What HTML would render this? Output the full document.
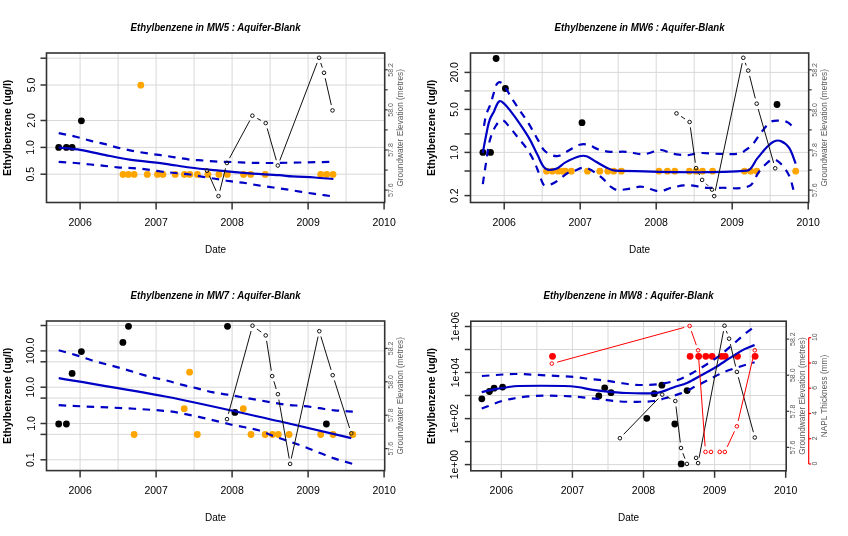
<!DOCTYPE html>
<html><head><meta charset="utf-8"><style>
html,body{margin:0;padding:0;background:#fff;}
body{width:848px;height:536px;overflow:hidden;font-family:"Liberation Sans", sans-serif;}
svg{display:block;filter:blur(0.3px);}
text{dominant-baseline:central;}
</style></head><body>
<svg width="848" height="536" viewBox="0 0 848 536" style='font-family:"Liberation Sans", sans-serif'>
<rect width="848" height="536" fill="#fff"/>
<line x1="80.1" y1="53" x2="80.1" y2="202.5" stroke="#d8d8d8" stroke-width="1" />
<line x1="118.1" y1="53" x2="118.1" y2="202.5" stroke="#d8d8d8" stroke-width="1" />
<line x1="156.1" y1="53" x2="156.1" y2="202.5" stroke="#d8d8d8" stroke-width="1" />
<line x1="194.1" y1="53" x2="194.1" y2="202.5" stroke="#d8d8d8" stroke-width="1" />
<line x1="232.1" y1="53" x2="232.1" y2="202.5" stroke="#d8d8d8" stroke-width="1" />
<line x1="270.1" y1="53" x2="270.1" y2="202.5" stroke="#d8d8d8" stroke-width="1" />
<line x1="308.1" y1="53" x2="308.1" y2="202.5" stroke="#d8d8d8" stroke-width="1" />
<line x1="346.1" y1="53" x2="346.1" y2="202.5" stroke="#d8d8d8" stroke-width="1" />
<line x1="46.5" y1="58.2" x2="384.7" y2="58.2" stroke="#d8d8d8" stroke-width="1" />
<line x1="46.5" y1="85" x2="384.7" y2="85" stroke="#d8d8d8" stroke-width="1" />
<line x1="46.5" y1="120.5" x2="384.7" y2="120.5" stroke="#d8d8d8" stroke-width="1" />
<line x1="46.5" y1="147.4" x2="384.7" y2="147.4" stroke="#d8d8d8" stroke-width="1" />
<line x1="46.5" y1="174.2" x2="384.7" y2="174.2" stroke="#d8d8d8" stroke-width="1" />
<line x1="504.2" y1="53" x2="504.2" y2="202.5" stroke="#d8d8d8" stroke-width="1" />
<line x1="542.2" y1="53" x2="542.2" y2="202.5" stroke="#d8d8d8" stroke-width="1" />
<line x1="580.2" y1="53" x2="580.2" y2="202.5" stroke="#d8d8d8" stroke-width="1" />
<line x1="618.2" y1="53" x2="618.2" y2="202.5" stroke="#d8d8d8" stroke-width="1" />
<line x1="656.2" y1="53" x2="656.2" y2="202.5" stroke="#d8d8d8" stroke-width="1" />
<line x1="694.2" y1="53" x2="694.2" y2="202.5" stroke="#d8d8d8" stroke-width="1" />
<line x1="732.2" y1="53" x2="732.2" y2="202.5" stroke="#d8d8d8" stroke-width="1" />
<line x1="770.2" y1="53" x2="770.2" y2="202.5" stroke="#d8d8d8" stroke-width="1" />
<line x1="470.5" y1="72.4" x2="808.7" y2="72.4" stroke="#d8d8d8" stroke-width="1" />
<line x1="470.5" y1="90.9" x2="808.7" y2="90.9" stroke="#d8d8d8" stroke-width="1" />
<line x1="470.5" y1="109.4" x2="808.7" y2="109.4" stroke="#d8d8d8" stroke-width="1" />
<line x1="470.5" y1="133.9" x2="808.7" y2="133.9" stroke="#d8d8d8" stroke-width="1" />
<line x1="470.5" y1="152.4" x2="808.7" y2="152.4" stroke="#d8d8d8" stroke-width="1" />
<line x1="470.5" y1="171" x2="808.7" y2="171" stroke="#d8d8d8" stroke-width="1" />
<line x1="470.5" y1="195.6" x2="808.7" y2="195.6" stroke="#d8d8d8" stroke-width="1" />
<line x1="80.1" y1="321" x2="80.1" y2="470.6" stroke="#d8d8d8" stroke-width="1" />
<line x1="118.1" y1="321" x2="118.1" y2="470.6" stroke="#d8d8d8" stroke-width="1" />
<line x1="156.1" y1="321" x2="156.1" y2="470.6" stroke="#d8d8d8" stroke-width="1" />
<line x1="194.1" y1="321" x2="194.1" y2="470.6" stroke="#d8d8d8" stroke-width="1" />
<line x1="232.1" y1="321" x2="232.1" y2="470.6" stroke="#d8d8d8" stroke-width="1" />
<line x1="270.1" y1="321" x2="270.1" y2="470.6" stroke="#d8d8d8" stroke-width="1" />
<line x1="308.1" y1="321" x2="308.1" y2="470.6" stroke="#d8d8d8" stroke-width="1" />
<line x1="346.1" y1="321" x2="346.1" y2="470.6" stroke="#d8d8d8" stroke-width="1" />
<line x1="46.5" y1="325.5" x2="384.7" y2="325.5" stroke="#d8d8d8" stroke-width="1" />
<line x1="46.5" y1="350.9" x2="384.7" y2="350.9" stroke="#d8d8d8" stroke-width="1" />
<line x1="46.5" y1="361.8" x2="384.7" y2="361.8" stroke="#d8d8d8" stroke-width="1" />
<line x1="46.5" y1="387.2" x2="384.7" y2="387.2" stroke="#d8d8d8" stroke-width="1" />
<line x1="46.5" y1="398.1" x2="384.7" y2="398.1" stroke="#d8d8d8" stroke-width="1" />
<line x1="46.5" y1="423.5" x2="384.7" y2="423.5" stroke="#d8d8d8" stroke-width="1" />
<line x1="46.5" y1="434.4" x2="384.7" y2="434.4" stroke="#d8d8d8" stroke-width="1" />
<line x1="46.5" y1="459.8" x2="384.7" y2="459.8" stroke="#d8d8d8" stroke-width="1" />
<line x1="501.3" y1="321.2" x2="501.3" y2="470.8" stroke="#d8d8d8" stroke-width="1" />
<line x1="536.9" y1="321.2" x2="536.9" y2="470.8" stroke="#d8d8d8" stroke-width="1" />
<line x1="572.4" y1="321.2" x2="572.4" y2="470.8" stroke="#d8d8d8" stroke-width="1" />
<line x1="608" y1="321.2" x2="608" y2="470.8" stroke="#d8d8d8" stroke-width="1" />
<line x1="643.5" y1="321.2" x2="643.5" y2="470.8" stroke="#d8d8d8" stroke-width="1" />
<line x1="679" y1="321.2" x2="679" y2="470.8" stroke="#d8d8d8" stroke-width="1" />
<line x1="714.6" y1="321.2" x2="714.6" y2="470.8" stroke="#d8d8d8" stroke-width="1" />
<line x1="750.1" y1="321.2" x2="750.1" y2="470.8" stroke="#d8d8d8" stroke-width="1" />
<line x1="470.8" y1="464.6" x2="786.2" y2="464.6" stroke="#d8d8d8" stroke-width="1" />
<line x1="470.8" y1="441.6" x2="786.2" y2="441.6" stroke="#d8d8d8" stroke-width="1" />
<line x1="470.8" y1="418.6" x2="786.2" y2="418.6" stroke="#d8d8d8" stroke-width="1" />
<line x1="470.8" y1="395.5" x2="786.2" y2="395.5" stroke="#d8d8d8" stroke-width="1" />
<line x1="470.8" y1="372.5" x2="786.2" y2="372.5" stroke="#d8d8d8" stroke-width="1" />
<line x1="470.8" y1="349.5" x2="786.2" y2="349.5" stroke="#d8d8d8" stroke-width="1" />
<line x1="470.8" y1="326.5" x2="786.2" y2="326.5" stroke="#d8d8d8" stroke-width="1" />
<circle cx="123" cy="174.4" r="3.4" fill="#ffa500"/>
<circle cx="128.4" cy="174.4" r="3.4" fill="#ffa500"/>
<circle cx="134.1" cy="174.4" r="3.4" fill="#ffa500"/>
<circle cx="147.3" cy="174.4" r="3.4" fill="#ffa500"/>
<circle cx="157.5" cy="174.4" r="3.4" fill="#ffa500"/>
<circle cx="162.9" cy="174.4" r="3.4" fill="#ffa500"/>
<circle cx="175.2" cy="174.4" r="3.4" fill="#ffa500"/>
<circle cx="184.4" cy="174.4" r="3.4" fill="#ffa500"/>
<circle cx="189.8" cy="174.4" r="3.4" fill="#ffa500"/>
<circle cx="197.4" cy="174.4" r="3.4" fill="#ffa500"/>
<circle cx="207.9" cy="174.4" r="3.4" fill="#ffa500"/>
<circle cx="218.9" cy="174.4" r="3.4" fill="#ffa500"/>
<circle cx="227.3" cy="174.4" r="3.4" fill="#ffa500"/>
<circle cx="243.6" cy="174.4" r="3.4" fill="#ffa500"/>
<circle cx="250.7" cy="174.4" r="3.4" fill="#ffa500"/>
<circle cx="265.2" cy="174.4" r="3.4" fill="#ffa500"/>
<circle cx="320.7" cy="174.4" r="3.4" fill="#ffa500"/>
<circle cx="326.7" cy="174.4" r="3.4" fill="#ffa500"/>
<circle cx="333" cy="174.4" r="3.4" fill="#ffa500"/>
<circle cx="140.8" cy="85.2" r="3.4" fill="#ffa500"/>
<circle cx="58.7" cy="147.4" r="3.4" fill="#000"/>
<circle cx="66.4" cy="147.4" r="3.4" fill="#000"/>
<circle cx="72.1" cy="147.4" r="3.4" fill="#000"/>
<circle cx="81.4" cy="120.8" r="3.4" fill="#000"/>
<path d="M58.7,147.3 C65.9,148.2 73.1,148.7 80.3,149.9 C88.8,151.3 97.2,153.4 105.7,155.1 C113.7,156.7 121.6,158.4 129.6,159.6 C141.5,161.3 153.5,162.2 165.4,163.8 C173.6,164.9 181.7,166.5 189.9,167.5 C199.8,168.8 209.8,169.7 219.7,170.7 C229.7,171.7 239.6,172.6 249.6,173.4 C259.5,174.1 269.5,174.5 279.4,175.2 C283.7,175.5 288.1,176.1 292.4,176.4 C299.9,176.9 307.3,177 314.8,177.5 C321,177.9 327.2,178.5 333.4,179" fill="none" stroke="#0000c4" stroke-width="2.2" stroke-linejoin="round" />
<path d="M58.7,133.1 C64.4,134.3 70.2,135.3 75.9,136.7 C80.9,137.9 85.8,139.6 90.8,140.9 C95.2,142 99.8,142.8 104.2,143.9 C108.7,145 113.1,146.5 117.6,147.6 C122.1,148.7 126.6,149.7 131.1,150.6 C136,151.6 141,152.3 146,153.1 C151,153.9 155.9,154.5 160.9,155.2 C165.6,155.9 170.2,156.6 174.9,157.3 C179.9,158.1 184.9,159 189.9,159.6 C194.8,160.1 199.8,160.2 204.8,160.6 C209.8,161 214.7,161.5 219.7,161.8 C224.7,162 229.6,161.9 234.6,162.1 C239.6,162.3 244.6,162.7 249.6,162.8 C257.4,163 265.2,163 273,163 C282,162.9 291,162.7 300,162.5 C311.1,162.3 322.3,162 333.4,161.8" fill="none" stroke="#0000c4" stroke-width="2.2" stroke-linejoin="round" stroke-dasharray="7.5,6.5"/>
<path d="M58.7,161.8 C64.4,162.2 70.2,162.5 75.9,163 C80.9,163.4 85.8,164 90.8,164.5 C95.3,164.9 99.7,165.3 104.2,165.8 C108.7,166.3 113.1,166.9 117.6,167.3 C122.6,167.7 127.6,167.7 132.6,168.1 C137.1,168.4 141.5,168.8 146,169.3 C151,169.9 155.9,170.9 160.9,171.5 C165.6,172.1 170.2,172.5 174.9,173 C179.9,173.5 184.9,173.8 189.9,174.5 C193.9,175 197.8,176 201.8,176.7 C206.8,177.5 211.7,178.2 216.7,179 C221.2,179.7 225.6,180.6 230.1,181.2 C235.1,181.9 240.1,182.3 245.1,183 C249.6,183.7 254,184.7 258.5,185.4 C263.5,186.2 268.4,186.8 273.4,187.5 C277.7,188.1 282.1,188.7 286.4,189.4 C290.9,190.1 295.4,190.9 299.9,191.6 C304.9,192.4 309.8,193.2 314.8,193.9 C321,194.8 327.2,195.6 333.4,196.5" fill="none" stroke="#0000c4" stroke-width="2.2" stroke-linejoin="round" stroke-dasharray="7.5,6.5"/>
<line x1="209.3" y1="175.7" x2="216.2" y2="191.1" stroke="#111" stroke-width="1" />
<line x1="219.9" y1="190.8" x2="225.5" y2="168.3" stroke="#111" stroke-width="1" />
<line x1="229.5" y1="158.2" x2="249.8" y2="120.5" stroke="#111" stroke-width="1" />
<line x1="257.2" y1="118.4" x2="260.9" y2="120.4" stroke="#111" stroke-width="1" />
<line x1="267.2" y1="128.4" x2="276.3" y2="160.2" stroke="#111" stroke-width="1" />
<line x1="279.8" y1="160.4" x2="317.1" y2="62.9" stroke="#111" stroke-width="1" />
<line x1="320.8" y1="63" x2="322.3" y2="67.6" stroke="#111" stroke-width="1" />
<line x1="325.2" y1="78.2" x2="331.3" y2="105" stroke="#111" stroke-width="1" />
<circle cx="207" cy="170.7" r="1.8" fill="none" stroke="#111" stroke-width="1"/>
<circle cx="218.5" cy="196.1" r="1.8" fill="none" stroke="#111" stroke-width="1"/>
<circle cx="226.9" cy="163" r="1.8" fill="none" stroke="#111" stroke-width="1"/>
<circle cx="252.4" cy="115.7" r="1.8" fill="none" stroke="#111" stroke-width="1"/>
<circle cx="265.7" cy="123.1" r="1.8" fill="none" stroke="#111" stroke-width="1"/>
<circle cx="277.8" cy="165.5" r="1.8" fill="none" stroke="#111" stroke-width="1"/>
<circle cx="319.1" cy="57.8" r="1.8" fill="none" stroke="#111" stroke-width="1"/>
<circle cx="324" cy="72.8" r="1.8" fill="none" stroke="#111" stroke-width="1"/>
<circle cx="332.5" cy="110.4" r="1.8" fill="none" stroke="#111" stroke-width="1"/>
<circle cx="546.5" cy="171.2" r="3.4" fill="#ffa500"/>
<circle cx="552.4" cy="171.2" r="3.4" fill="#ffa500"/>
<circle cx="558.3" cy="171.2" r="3.4" fill="#ffa500"/>
<circle cx="563" cy="171.2" r="3.4" fill="#ffa500"/>
<circle cx="565.4" cy="171.2" r="3.4" fill="#ffa500"/>
<circle cx="571.3" cy="171.2" r="3.4" fill="#ffa500"/>
<circle cx="587.5" cy="171.2" r="3.4" fill="#ffa500"/>
<circle cx="599.8" cy="171.2" r="3.4" fill="#ffa500"/>
<circle cx="607.8" cy="171.2" r="3.4" fill="#ffa500"/>
<circle cx="613.7" cy="171.2" r="3.4" fill="#ffa500"/>
<circle cx="621.4" cy="171.2" r="3.4" fill="#ffa500"/>
<circle cx="658.9" cy="171.2" r="3.4" fill="#ffa500"/>
<circle cx="667.4" cy="171.2" r="3.4" fill="#ffa500"/>
<circle cx="674.8" cy="171.2" r="3.4" fill="#ffa500"/>
<circle cx="689.3" cy="171.2" r="3.4" fill="#ffa500"/>
<circle cx="696.1" cy="171.2" r="3.4" fill="#ffa500"/>
<circle cx="702.5" cy="171.2" r="3.4" fill="#ffa500"/>
<circle cx="712.6" cy="171.2" r="3.4" fill="#ffa500"/>
<circle cx="744.5" cy="171.2" r="3.4" fill="#ffa500"/>
<circle cx="750.7" cy="171.2" r="3.4" fill="#ffa500"/>
<circle cx="756.8" cy="171.2" r="3.4" fill="#ffa500"/>
<circle cx="795.7" cy="171.2" r="3.4" fill="#ffa500"/>
<circle cx="482.9" cy="152.4" r="3.4" fill="#000"/>
<circle cx="490.5" cy="152.4" r="3.4" fill="#000"/>
<circle cx="496.1" cy="58.5" r="3.4" fill="#000"/>
<circle cx="505.4" cy="88.5" r="3.4" fill="#000"/>
<circle cx="582" cy="122.7" r="3.4" fill="#000"/>
<circle cx="777" cy="104.5" r="3.4" fill="#000"/>
<path d="M482.8,152.8 C483.9,146.8 485,140.8 486.2,134.9 C487.2,130 487.9,125 489.5,120.3 C490.5,117.1 492.5,114.4 494,111.4 C495.7,108 496.2,103.6 499.2,101.3 C500.6,100.2 502.7,102.4 504.1,103.6 C506.7,105.9 508.7,108.7 510.8,111.4 C513.9,115.4 516.9,119.5 519.7,123.7 C523.2,128.8 526.7,134 529.8,139.4 C532.7,144.4 534.8,149.9 537.6,155 C540.1,159.6 541.3,165.4 545.5,168.6 C548.3,170.7 552.6,169.9 555.9,168.9 C559.6,167.8 562,164.2 565.4,162.4 C569.9,160 574.6,157.7 579.5,156.3 C581.8,155.6 584.4,155.6 586.6,156.3 C590,157.4 592.8,160 596,161.8 C599.5,163.8 603,166 606.7,167.7 C609.3,168.9 612,170.5 614.9,170.6 C658.9,171.5 703.1,174.3 747,170.6 C752.2,170.2 753.7,162.6 757.1,158.6 C760.5,154.7 763.6,150.5 767.2,146.8 C769.2,144.8 771.3,142.6 773.9,141.5 C776,140.6 778.5,140.1 780.6,141 C783.9,142.4 787,144.7 789,147.7 C792.2,152.5 793.5,158.3 795.7,163.6" fill="none" stroke="#0000c4" stroke-width="2.2" stroke-linejoin="round" />
<path d="M484,125.9 C484.7,122.2 485.1,118.3 486.2,114.7 C487.3,110.9 489.4,107.4 490.7,103.6 C492,99.9 492.7,96.1 494,92.4 C495.3,88.9 495.4,84.3 498.5,82.3 C500.3,81.1 502.7,84 504.1,85.7 C506.9,89 508.5,93.2 510.8,96.8 C513.7,101.4 516.7,105.8 519.7,110.3 C522.7,114.8 525.9,119.1 528.7,123.7 C531.9,128.8 534.6,134.2 537.6,139.4 C539.8,143.1 541.4,147.3 544.4,150.5 C546.5,152.8 549.5,154.2 552.4,155.3 C554.2,156 556.4,156.4 558.3,155.9 C561.3,155.2 563.9,153.3 566.6,151.8 C568.6,150.7 570.5,149.4 572.5,148.3 C574.8,147 576.9,145.3 579.5,144.7 C582.2,144.1 585.1,144 587.8,144.7 C591.6,145.6 594.7,148.2 598.4,149.4 C602.2,150.6 606.2,151.5 610.2,151.8 C615.4,152.3 620.7,151.4 625.9,151.8 C631.8,152.2 637.6,154.3 643.6,154.2 C647.7,154.1 651.5,152.1 655.4,151.2 C657.4,150.7 659.3,149.8 661.3,150 C664.6,150.4 667.5,152.1 670.7,153 C672.6,153.6 674.6,154.2 676.6,154.4 C680.5,154.9 684.5,155.3 688.4,155.1 C690.8,155 693.1,154 695.5,153.6 C697.8,153.3 700.2,153 702.5,153 C708.3,153.1 714.2,153.8 720,153.9 C726.7,154 733.4,154.6 740,153.6 C742.1,153.3 743.7,151.4 745.4,150.2 C747.7,148.6 750.2,147.3 752,145.2 C755.2,141.6 757.5,137.2 760.5,133.4 C763.2,130 765.7,126.4 768.9,123.4 C770.3,122.1 772.1,121.1 773.9,120.8 C776.7,120.3 779.7,120.6 782.5,120.9 C784.3,121.1 786.3,121.4 787.8,122.4 C790.6,124.2 792.7,126.9 795.2,129.1" fill="none" stroke="#0000c4" stroke-width="2.2" stroke-linejoin="round" stroke-dasharray="7.5,6.5"/>
<path d="M482.8,184.1 C483.9,176.6 485,169.2 486.2,161.7 C487.3,155 487.8,148.2 489.5,141.6 C490.8,136.6 492.5,131.5 495.1,127 C496.7,124.3 498.7,120.6 501.8,120.3 C504.7,120.1 506.6,123.8 508.6,125.9 C511.9,129.4 514.5,133.4 517.5,137.1 C520.5,140.8 523.8,144.4 526.5,148.3 C529,151.9 531.3,155.6 533.2,159.5 C535.4,163.8 537,168.4 538.8,172.9 C540.3,176.6 541.1,180.7 543.2,184.1 C543.8,185.1 545.3,185.8 546.5,185.6 C549.4,185.2 552.2,183.9 554.8,182.5 C556.9,181.4 558.7,179.7 560.7,178.3 C563.4,176.3 565.9,174 568.9,172.4 C570.7,171.4 572.9,171.4 574.8,170.7 C577.2,169.9 579.4,168.2 581.9,167.9 C584.3,167.6 586.8,168 589,168.9 C592,170.1 594.5,172.3 597.2,174.2 C599.3,175.7 601.2,177.2 603.1,178.9 C606,181.5 608.3,184.8 611.4,187.2 C613.1,188.6 615.1,189.7 617.3,190.1 C619.6,190.5 622,189.8 624.3,189.5 C626.8,189.2 629.3,188.8 631.8,188.3 C634.5,187.8 637.2,186.7 640,186.6 C642.4,186.5 644.8,187.2 647.1,187.8 C649.9,188.6 652.5,190.2 655.4,190.7 C657.7,191.1 660.2,191.1 662.5,190.7 C664.9,190.3 667.1,189 669.5,188.3 C671.8,187.6 674.2,187.1 676.6,186.6 C679,186.1 681.3,185.6 683.7,185.4 C686.1,185.2 688.4,185.2 690.8,185.4 C693.6,185.6 696.3,186.2 699,186.6 C701.8,187 704.5,187.6 707.3,187.8 C711.5,188 715.8,188 720,187.8 C729.6,187.5 739.8,189.9 748.7,186.3 C754.1,184.1 755.2,176.6 758.8,172 C761.4,168.7 764,165.5 767.2,162.8 C769.1,161.2 771.4,159.3 773.9,159.4 C776.5,159.6 778.8,161.7 780.6,163.6 C783.9,167.1 787,171 789,175.4 C791.9,181.8 792.9,188.8 794.9,195.5" fill="none" stroke="#0000c4" stroke-width="2.2" stroke-linejoin="round" stroke-dasharray="7.5,6.5"/>
<line x1="681.1" y1="116.4" x2="685" y2="119" stroke="#111" stroke-width="1" />
<line x1="690.4" y1="127.4" x2="695.3" y2="162.7" stroke="#111" stroke-width="1" />
<line x1="698.6" y1="173" x2="699.6" y2="175" stroke="#111" stroke-width="1" />
<line x1="706" y1="183.7" x2="708.1" y2="185.8" stroke="#111" stroke-width="1" />
<line x1="715.3" y1="190.7" x2="742.2" y2="63.2" stroke="#111" stroke-width="1" />
<line x1="745.3" y1="62.9" x2="746.2" y2="65.5" stroke="#111" stroke-width="1" />
<line x1="749.6" y1="75.9" x2="755.3" y2="98.4" stroke="#111" stroke-width="1" />
<line x1="758.2" y1="109" x2="773.7" y2="163" stroke="#111" stroke-width="1" />
<circle cx="676.5" cy="113.4" r="1.8" fill="none" stroke="#111" stroke-width="1"/>
<circle cx="689.6" cy="122" r="1.8" fill="none" stroke="#111" stroke-width="1"/>
<circle cx="696.1" cy="168.1" r="1.8" fill="none" stroke="#111" stroke-width="1"/>
<circle cx="702.1" cy="179.9" r="1.8" fill="none" stroke="#111" stroke-width="1"/>
<circle cx="712" cy="189.6" r="1.8" fill="none" stroke="#111" stroke-width="1"/>
<circle cx="714.2" cy="196.1" r="1.8" fill="none" stroke="#111" stroke-width="1"/>
<circle cx="743.3" cy="57.8" r="1.8" fill="none" stroke="#111" stroke-width="1"/>
<circle cx="748.2" cy="70.6" r="1.8" fill="none" stroke="#111" stroke-width="1"/>
<circle cx="756.7" cy="103.7" r="1.8" fill="none" stroke="#111" stroke-width="1"/>
<circle cx="775.2" cy="168.3" r="1.8" fill="none" stroke="#111" stroke-width="1"/>
<circle cx="134.1" cy="434.5" r="3.4" fill="#ffa500"/>
<circle cx="184.2" cy="408.7" r="3.4" fill="#ffa500"/>
<circle cx="189.6" cy="372.2" r="3.4" fill="#ffa500"/>
<circle cx="197.3" cy="434.5" r="3.4" fill="#ffa500"/>
<circle cx="243.3" cy="408.7" r="3.4" fill="#ffa500"/>
<circle cx="251" cy="434.5" r="3.4" fill="#ffa500"/>
<circle cx="265.2" cy="434.5" r="3.4" fill="#ffa500"/>
<circle cx="272.5" cy="434.5" r="3.4" fill="#ffa500"/>
<circle cx="278.3" cy="434.5" r="3.4" fill="#ffa500"/>
<circle cx="289.1" cy="434.5" r="3.4" fill="#ffa500"/>
<circle cx="320.7" cy="434.5" r="3.4" fill="#ffa500"/>
<circle cx="333" cy="434.5" r="3.4" fill="#ffa500"/>
<circle cx="352.8" cy="434.5" r="3.4" fill="#ffa500"/>
<circle cx="58.7" cy="424" r="3.4" fill="#000"/>
<circle cx="66.4" cy="424" r="3.4" fill="#000"/>
<circle cx="72.1" cy="373.4" r="3.4" fill="#000"/>
<circle cx="81.4" cy="351.6" r="3.4" fill="#000"/>
<circle cx="122.9" cy="342.4" r="3.4" fill="#000"/>
<circle cx="128.5" cy="326.3" r="3.4" fill="#000"/>
<circle cx="227.5" cy="326.3" r="3.4" fill="#000"/>
<circle cx="234.9" cy="412.4" r="3.4" fill="#000"/>
<circle cx="326.4" cy="424" r="3.4" fill="#000"/>
<path d="M58.7,378.2 C94.3,384.3 130,389.6 165.4,396.5 C203.6,404 241.4,412.8 279.4,421.3 C303.4,426.7 327.3,432.5 351.3,438.1" fill="none" stroke="#0000c4" stroke-width="2.2" stroke-linejoin="round" />
<path d="M58.7,350.3 C64.4,351.9 70.2,353.4 75.9,355.1 C81.1,356.7 86.3,358.7 91.5,360.3 C96.7,361.9 102,363.1 107.2,364.5 C112.2,365.8 117.2,367.1 122.1,368.5 C127.1,369.9 132,371.5 137,373 C142.2,374.5 147.4,376.2 152.7,377.5 C157.1,378.6 161.6,379.3 166,380.4 C171.5,381.8 176.9,383.5 182.4,384.9 C187.3,386.2 192.3,387.2 197.3,388.4 C202.3,389.6 207.2,391.2 212.2,392.2 C217.2,393.2 222.2,393.8 227.2,394.6 C232.7,395.5 238.1,396.5 243.6,397.5 C253.5,399.2 263.5,401 273.4,402.7 C278.2,403.5 283,404.4 287.9,404.9 C293.3,405.5 298.8,405.5 304.3,406.1 C309.3,406.6 314.3,407.5 319.3,408.2 C324.3,408.9 329.2,409.8 334.2,410.3 C340.4,410.9 346.6,411.2 352.8,411.6" fill="none" stroke="#0000c4" stroke-width="2.2" stroke-linejoin="round" stroke-dasharray="7.5,6.5"/>
<path d="M58.7,405.2 C94.3,407.1 129.9,407.9 165.4,410.9 C176.7,411.8 187.7,414.6 198.8,416.9 C208.8,419 218.7,421.7 228.7,424 C233.6,425.1 238.6,426 243.6,427 C248.6,428.1 253.6,428.8 258.5,430.3 C263.1,431.7 267.5,433.9 272,435.5 C277.8,437.6 283.6,439.5 289.4,441.5 C294.4,443.2 299.4,444.9 304.3,446.7 C309.3,448.6 314.3,450.7 319.3,452.7 C324.3,454.6 329.2,456.7 334.2,458.4 C340.3,460.5 346.6,462.1 352.8,463.9" fill="none" stroke="#0000c4" stroke-width="2.2" stroke-linejoin="round" stroke-dasharray="7.5,6.5"/>
<line x1="228.4" y1="413.8" x2="251.1" y2="331" stroke="#111" stroke-width="1" />
<line x1="256.9" y1="329" x2="261.3" y2="332.1" stroke="#111" stroke-width="1" />
<line x1="266.6" y1="340.8" x2="271.3" y2="370.7" stroke="#111" stroke-width="1" />
<line x1="273.9" y1="381.3" x2="276.2" y2="389" stroke="#111" stroke-width="1" />
<line x1="278.8" y1="399.6" x2="289.2" y2="458.5" stroke="#111" stroke-width="1" />
<line x1="291.3" y1="458.5" x2="318.1" y2="336.6" stroke="#111" stroke-width="1" />
<line x1="320.9" y1="336.5" x2="331.1" y2="369.9" stroke="#111" stroke-width="1" />
<line x1="334.4" y1="380.4" x2="349.6" y2="428.1" stroke="#111" stroke-width="1" />
<circle cx="227" cy="419.1" r="1.8" fill="none" stroke="#111" stroke-width="1"/>
<circle cx="252.5" cy="325.7" r="1.8" fill="none" stroke="#111" stroke-width="1"/>
<circle cx="265.7" cy="335.4" r="1.8" fill="none" stroke="#111" stroke-width="1"/>
<circle cx="272.2" cy="376.1" r="1.8" fill="none" stroke="#111" stroke-width="1"/>
<circle cx="277.9" cy="394.2" r="1.8" fill="none" stroke="#111" stroke-width="1"/>
<circle cx="290.1" cy="463.9" r="1.8" fill="none" stroke="#111" stroke-width="1"/>
<circle cx="319.3" cy="331.2" r="1.8" fill="none" stroke="#111" stroke-width="1"/>
<circle cx="332.7" cy="375.2" r="1.8" fill="none" stroke="#111" stroke-width="1"/>
<circle cx="351.3" cy="433.3" r="1.8" fill="none" stroke="#111" stroke-width="1"/>
<circle cx="481.8" cy="398.8" r="3.4" fill="#000"/>
<circle cx="489.4" cy="391.5" r="3.4" fill="#000"/>
<circle cx="494.1" cy="388.2" r="3.4" fill="#000"/>
<circle cx="502.6" cy="387.1" r="3.4" fill="#000"/>
<circle cx="598.8" cy="395.9" r="3.4" fill="#000"/>
<circle cx="604.7" cy="387.8" r="3.4" fill="#000"/>
<circle cx="611" cy="392.7" r="3.4" fill="#000"/>
<circle cx="646.8" cy="418.3" r="3.4" fill="#000"/>
<circle cx="654.3" cy="393.7" r="3.4" fill="#000"/>
<circle cx="661.9" cy="385.2" r="3.4" fill="#000"/>
<circle cx="674.8" cy="424" r="3.4" fill="#000"/>
<circle cx="681.2" cy="463.9" r="3.4" fill="#000"/>
<circle cx="687.1" cy="390.6" r="3.4" fill="#000"/>
<circle cx="552.5" cy="356.3" r="3.4" fill="#ff0000"/>
<circle cx="690.1" cy="356.3" r="3.4" fill="#ff0000"/>
<circle cx="698.7" cy="356.3" r="3.4" fill="#ff0000"/>
<circle cx="705.8" cy="356.3" r="3.4" fill="#ff0000"/>
<circle cx="712.1" cy="356.3" r="3.4" fill="#ff0000"/>
<circle cx="721.5" cy="356.3" r="3.4" fill="#ff0000"/>
<circle cx="725.2" cy="356.3" r="3.4" fill="#ff0000"/>
<circle cx="737.5" cy="356.3" r="3.4" fill="#ff0000"/>
<circle cx="755.1" cy="356.3" r="3.4" fill="#ff0000"/>
<path d="M481.7,392.1 C486.2,391.1 490.7,390.1 495.2,389.2 C499.6,388.4 504.1,387.6 508.6,387 C512,386.5 515.3,386.1 518.7,386 C533.8,385.7 548.9,385.7 564,386 C568.5,386.1 573,386.4 577.4,387 C583.3,387.8 589,389.3 594.9,390.1 C603.9,391.3 612.9,392.4 622,392.8 C633.7,393.3 645.5,394.1 657.2,392.8 C663.1,392.2 668.4,389.1 674,387.2 C678.5,385.7 683.1,384.6 687.5,382.7 C691.8,380.8 695.8,378.3 699.9,376 C704.9,373.3 709.9,370.7 714.8,367.8 C719.9,364.7 724.7,361.3 729.7,358.1 C734.6,355 739.5,351.8 744.6,349.1 C747.8,347.4 751.3,346.4 754.6,345" fill="none" stroke="#0000c4" stroke-width="2.2" stroke-linejoin="round" />
<path d="M481.9,376 C492.9,375.3 503.8,374.2 514.8,374 C522.3,373.9 529.7,374.6 537.2,374.9 C544.7,375.3 552.1,375.7 559.6,376.1 C565.6,376.5 571.5,376.7 577.5,377.3 C581.5,377.7 585.4,378.5 589.4,379 C594.2,379.6 599.1,379.8 603.9,380.4 C608.9,381 613.8,382 618.8,382.7 C623.3,383.4 627.7,384.3 632.2,384.6 C637.7,385 643.2,385.1 648.7,384.9 C653.7,384.7 658.7,384.3 663.6,383.4 C668.6,382.5 673.7,381.4 678.5,379.7 C683.3,378 687.9,375.5 692.4,373 C697.5,370.2 702.4,367.1 707.3,364 C711.4,361.4 715.4,358.7 719.3,355.8 C723.9,352.3 728.3,348.4 732.7,344.6 C736.7,341.2 740.5,337.5 744.6,334.2 C747.8,331.6 751.3,329.2 754.6,326.7" fill="none" stroke="#0000c4" stroke-width="2.2" stroke-linejoin="round" stroke-dasharray="7.5,6.5"/>
<path d="M481.7,408.5 C484,407.7 486.2,406.8 488.5,406 C493,404.3 497.3,402.4 501.9,401 C505.7,399.9 509.7,399.2 513.6,398.5 C518.6,397.6 523.6,396.9 528.7,396.4 C533.7,395.9 538.8,395.6 543.8,395.6 C553.3,395.6 562.8,395.9 572.3,396.4 C578.2,396.7 584.1,397.5 590,398.1 C595.1,398.6 600.1,399.2 605.2,399.8 C610.2,400.4 615.2,401.2 620.3,401.5 C625.9,401.8 631.4,401.9 637,401.8 C642.6,401.7 648.2,401.8 653.8,401 C658.4,400.4 662.8,398.9 667.2,397.6 C671.7,396.3 676.3,395.1 680.7,393.4 C684.7,391.9 688.5,389.8 692.4,387.9 C697.4,385.5 702.3,382.9 707.3,380.4 C712.8,377.7 718.1,374.6 723.7,372.2 C728.1,370.3 732.7,369 737.2,367.5 C743,365.6 748.8,364 754.6,362.2" fill="none" stroke="#0000c4" stroke-width="2.2" stroke-linejoin="round" stroke-dasharray="7.5,6.5"/>
<line x1="623.7" y1="434.3" x2="658.4" y2="398.5" stroke="#111" stroke-width="1" />
<line x1="667.1" y1="397" x2="670.4" y2="398.6" stroke="#111" stroke-width="1" />
<line x1="676" y1="406.5" x2="680.3" y2="442.5" stroke="#111" stroke-width="1" />
<line x1="682.9" y1="453.2" x2="685" y2="458.7" stroke="#111" stroke-width="1" />
<line x1="699.1" y1="457.7" x2="723.5" y2="331.1" stroke="#111" stroke-width="1" />
<line x1="726.3" y1="330.9" x2="727.3" y2="333.5" stroke="#111" stroke-width="1" />
<line x1="730.4" y1="344.1" x2="735.6" y2="366.5" stroke="#111" stroke-width="1" />
<line x1="738.3" y1="377.2" x2="753.4" y2="432.2" stroke="#111" stroke-width="1" />
<circle cx="619.9" cy="438.2" r="1.8" fill="none" stroke="#111" stroke-width="1"/>
<circle cx="662.2" cy="394.6" r="1.8" fill="none" stroke="#111" stroke-width="1"/>
<circle cx="675.3" cy="401" r="1.8" fill="none" stroke="#111" stroke-width="1"/>
<circle cx="681" cy="448" r="1.8" fill="none" stroke="#111" stroke-width="1"/>
<circle cx="686.9" cy="463.9" r="1.8" fill="none" stroke="#111" stroke-width="1"/>
<circle cx="696.1" cy="457.9" r="1.8" fill="none" stroke="#111" stroke-width="1"/>
<circle cx="698.1" cy="463.1" r="1.8" fill="none" stroke="#111" stroke-width="1"/>
<circle cx="724.5" cy="325.7" r="1.8" fill="none" stroke="#111" stroke-width="1"/>
<circle cx="729.1" cy="338.7" r="1.8" fill="none" stroke="#111" stroke-width="1"/>
<circle cx="736.9" cy="371.9" r="1.8" fill="none" stroke="#111" stroke-width="1"/>
<circle cx="754.8" cy="437.5" r="1.8" fill="none" stroke="#111" stroke-width="1"/>
<line x1="557.1" y1="362.2" x2="684.3" y2="327.4" stroke="#ff0000" stroke-width="1" />
<line x1="691.4" y1="331.2" x2="696.3" y2="345.1" stroke="#ff0000" stroke-width="1" />
<line x1="698.5" y1="355.8" x2="705.1" y2="446.4" stroke="#ff0000" stroke-width="1" />
<line x1="727.2" y1="446.9" x2="734.5" y2="431.3" stroke="#ff0000" stroke-width="1" />
<line x1="738.2" y1="420.9" x2="753.5" y2="355.7" stroke="#ff0000" stroke-width="1" />
<circle cx="551.8" cy="363.6" r="1.8" fill="none" stroke="#ff0000" stroke-width="1"/>
<circle cx="689.6" cy="326" r="1.8" fill="none" stroke="#ff0000" stroke-width="1"/>
<circle cx="698.1" cy="350.3" r="1.8" fill="none" stroke="#ff0000" stroke-width="1"/>
<circle cx="705.5" cy="451.9" r="1.8" fill="none" stroke="#ff0000" stroke-width="1"/>
<circle cx="711" cy="451.9" r="1.8" fill="none" stroke="#ff0000" stroke-width="1"/>
<circle cx="719.7" cy="451.9" r="1.8" fill="none" stroke="#ff0000" stroke-width="1"/>
<circle cx="724.8" cy="451.9" r="1.8" fill="none" stroke="#ff0000" stroke-width="1"/>
<circle cx="736.9" cy="426.3" r="1.8" fill="none" stroke="#ff0000" stroke-width="1"/>
<circle cx="754.8" cy="350.3" r="1.8" fill="none" stroke="#ff0000" stroke-width="1"/>
<rect x="46.5" y="53" width="338.2" height="149.5" fill="none" stroke="#333" stroke-width="1.6"/>
<line x1="40.5" y1="58.2" x2="46.5" y2="58.2" stroke="#333" stroke-width="1.5" />
<line x1="40.5" y1="85" x2="46.5" y2="85" stroke="#333" stroke-width="1.5" />
<line x1="40.5" y1="120.5" x2="46.5" y2="120.5" stroke="#333" stroke-width="1.5" />
<line x1="40.5" y1="147.4" x2="46.5" y2="147.4" stroke="#333" stroke-width="1.5" />
<line x1="40.5" y1="174.2" x2="46.5" y2="174.2" stroke="#333" stroke-width="1.5" />
<line x1="80.1" y1="202.5" x2="80.1" y2="209.5" stroke="#333" stroke-width="1.5" />
<text x="80.1" y="222" font-size="10.5" font-weight="normal" font-style="normal" text-anchor="middle" fill="#000" >2006</text>
<line x1="156.1" y1="202.5" x2="156.1" y2="209.5" stroke="#333" stroke-width="1.5" />
<text x="156.1" y="222" font-size="10.5" font-weight="normal" font-style="normal" text-anchor="middle" fill="#000" >2007</text>
<line x1="232.1" y1="202.5" x2="232.1" y2="209.5" stroke="#333" stroke-width="1.5" />
<text x="232.1" y="222" font-size="10.5" font-weight="normal" font-style="normal" text-anchor="middle" fill="#000" >2008</text>
<line x1="308.1" y1="202.5" x2="308.1" y2="209.5" stroke="#333" stroke-width="1.5" />
<text x="308.1" y="222" font-size="10.5" font-weight="normal" font-style="normal" text-anchor="middle" fill="#000" >2009</text>
<line x1="384.1" y1="202.5" x2="384.1" y2="209.5" stroke="#333" stroke-width="1.5" />
<text x="384.1" y="222" font-size="10.5" font-weight="normal" font-style="normal" text-anchor="middle" fill="#000" >2010</text>
<text x="30.5" y="85" font-size="10.5" font-weight="normal" font-style="normal" text-anchor="middle" fill="#000" transform="rotate(-90 30.5 85)" >5.0</text>
<text x="30.5" y="120.5" font-size="10.5" font-weight="normal" font-style="normal" text-anchor="middle" fill="#000" transform="rotate(-90 30.5 120.5)" >2.0</text>
<text x="30.5" y="147.4" font-size="10.5" font-weight="normal" font-style="normal" text-anchor="middle" fill="#000" transform="rotate(-90 30.5 147.4)" >1.0</text>
<text x="30.5" y="174.2" font-size="10.5" font-weight="normal" font-style="normal" text-anchor="middle" fill="#000" transform="rotate(-90 30.5 174.2)" >0.5</text>
<line x1="384.7" y1="69.8" x2="387.7" y2="69.8" stroke="#333" stroke-width="1.2" />
<line x1="384.7" y1="89.8" x2="387.7" y2="89.8" stroke="#333" stroke-width="1.2" />
<line x1="384.7" y1="109.9" x2="387.7" y2="109.9" stroke="#333" stroke-width="1.2" />
<line x1="384.7" y1="129.9" x2="387.7" y2="129.9" stroke="#333" stroke-width="1.2" />
<line x1="384.7" y1="150" x2="387.7" y2="150" stroke="#333" stroke-width="1.2" />
<line x1="384.7" y1="170.1" x2="387.7" y2="170.1" stroke="#333" stroke-width="1.2" />
<line x1="384.7" y1="190.1" x2="387.7" y2="190.1" stroke="#333" stroke-width="1.2" />
<text x="390.7" y="69.8" font-size="7" font-weight="normal" font-style="normal" text-anchor="middle" fill="#5a5a5a" transform="rotate(-90 390.7 69.8)" >58.2</text>
<text x="390.7" y="109.9" font-size="7" font-weight="normal" font-style="normal" text-anchor="middle" fill="#5a5a5a" transform="rotate(-90 390.7 109.9)" >58.0</text>
<text x="390.7" y="150" font-size="7" font-weight="normal" font-style="normal" text-anchor="middle" fill="#5a5a5a" transform="rotate(-90 390.7 150)" >57.8</text>
<text x="390.7" y="190.1" font-size="7" font-weight="normal" font-style="normal" text-anchor="middle" fill="#5a5a5a" transform="rotate(-90 390.7 190.1)" >57.6</text>
<text x="215.6" y="27.4" font-size="10.2" font-weight="bold" font-style="italic" text-anchor="middle" fill="#000" textLength="170" lengthAdjust="spacingAndGlyphs">Ethylbenzene in MW5 : Aquifer-Blank</text>
<text x="215.6" y="249" font-size="10" font-weight="normal" font-style="normal" text-anchor="middle" fill="#000" >Date</text>
<text x="7" y="127.8" font-size="10.5" font-weight="bold" font-style="normal" text-anchor="middle" fill="#000" transform="rotate(-90 7 127.8)" >Ethylbenzene (ug/l)</text>
<text x="400.2" y="127.8" font-size="8.3" font-weight="normal" font-style="normal" text-anchor="middle" fill="#5a5a5a" transform="rotate(-90 400.2 127.8)" >Groundwater Elevation (metres)</text>
<rect x="470.5" y="53" width="338.2" height="149.5" fill="none" stroke="#333" stroke-width="1.6"/>
<line x1="464.5" y1="72.4" x2="470.5" y2="72.4" stroke="#333" stroke-width="1.5" />
<line x1="464.5" y1="90.9" x2="470.5" y2="90.9" stroke="#333" stroke-width="1.5" />
<line x1="464.5" y1="109.4" x2="470.5" y2="109.4" stroke="#333" stroke-width="1.5" />
<line x1="464.5" y1="133.9" x2="470.5" y2="133.9" stroke="#333" stroke-width="1.5" />
<line x1="464.5" y1="152.4" x2="470.5" y2="152.4" stroke="#333" stroke-width="1.5" />
<line x1="464.5" y1="171" x2="470.5" y2="171" stroke="#333" stroke-width="1.5" />
<line x1="464.5" y1="195.6" x2="470.5" y2="195.6" stroke="#333" stroke-width="1.5" />
<line x1="504.2" y1="202.5" x2="504.2" y2="209.5" stroke="#333" stroke-width="1.5" />
<text x="504.2" y="222" font-size="10.5" font-weight="normal" font-style="normal" text-anchor="middle" fill="#000" >2006</text>
<line x1="580.2" y1="202.5" x2="580.2" y2="209.5" stroke="#333" stroke-width="1.5" />
<text x="580.2" y="222" font-size="10.5" font-weight="normal" font-style="normal" text-anchor="middle" fill="#000" >2007</text>
<line x1="656.2" y1="202.5" x2="656.2" y2="209.5" stroke="#333" stroke-width="1.5" />
<text x="656.2" y="222" font-size="10.5" font-weight="normal" font-style="normal" text-anchor="middle" fill="#000" >2008</text>
<line x1="732.2" y1="202.5" x2="732.2" y2="209.5" stroke="#333" stroke-width="1.5" />
<text x="732.2" y="222" font-size="10.5" font-weight="normal" font-style="normal" text-anchor="middle" fill="#000" >2009</text>
<line x1="808.2" y1="202.5" x2="808.2" y2="209.5" stroke="#333" stroke-width="1.5" />
<text x="808.2" y="222" font-size="10.5" font-weight="normal" font-style="normal" text-anchor="middle" fill="#000" >2010</text>
<text x="454.5" y="72.4" font-size="10.5" font-weight="normal" font-style="normal" text-anchor="middle" fill="#000" transform="rotate(-90 454.5 72.4)" >20.0</text>
<text x="454.5" y="109.4" font-size="10.5" font-weight="normal" font-style="normal" text-anchor="middle" fill="#000" transform="rotate(-90 454.5 109.4)" >5.0</text>
<text x="454.5" y="152.4" font-size="10.5" font-weight="normal" font-style="normal" text-anchor="middle" fill="#000" transform="rotate(-90 454.5 152.4)" >1.0</text>
<text x="454.5" y="195.6" font-size="10.5" font-weight="normal" font-style="normal" text-anchor="middle" fill="#000" transform="rotate(-90 454.5 195.6)" >0.2</text>
<line x1="808.7" y1="69.8" x2="811.7" y2="69.8" stroke="#333" stroke-width="1.2" />
<line x1="808.7" y1="89.8" x2="811.7" y2="89.8" stroke="#333" stroke-width="1.2" />
<line x1="808.7" y1="109.9" x2="811.7" y2="109.9" stroke="#333" stroke-width="1.2" />
<line x1="808.7" y1="129.9" x2="811.7" y2="129.9" stroke="#333" stroke-width="1.2" />
<line x1="808.7" y1="150" x2="811.7" y2="150" stroke="#333" stroke-width="1.2" />
<line x1="808.7" y1="170.1" x2="811.7" y2="170.1" stroke="#333" stroke-width="1.2" />
<line x1="808.7" y1="190.1" x2="811.7" y2="190.1" stroke="#333" stroke-width="1.2" />
<text x="814.7" y="69.8" font-size="7" font-weight="normal" font-style="normal" text-anchor="middle" fill="#5a5a5a" transform="rotate(-90 814.7 69.8)" >58.2</text>
<text x="814.7" y="109.9" font-size="7" font-weight="normal" font-style="normal" text-anchor="middle" fill="#5a5a5a" transform="rotate(-90 814.7 109.9)" >58.0</text>
<text x="814.7" y="150" font-size="7" font-weight="normal" font-style="normal" text-anchor="middle" fill="#5a5a5a" transform="rotate(-90 814.7 150)" >57.8</text>
<text x="814.7" y="190.1" font-size="7" font-weight="normal" font-style="normal" text-anchor="middle" fill="#5a5a5a" transform="rotate(-90 814.7 190.1)" >57.6</text>
<text x="639.6" y="27.4" font-size="10.2" font-weight="bold" font-style="italic" text-anchor="middle" fill="#000" textLength="170" lengthAdjust="spacingAndGlyphs">Ethylbenzene in MW6 : Aquifer-Blank</text>
<text x="639.6" y="249" font-size="10" font-weight="normal" font-style="normal" text-anchor="middle" fill="#000" >Date</text>
<text x="431" y="127.8" font-size="10.5" font-weight="bold" font-style="normal" text-anchor="middle" fill="#000" transform="rotate(-90 431 127.8)" >Ethylbenzene (ug/l)</text>
<text x="824.2" y="127.8" font-size="8.3" font-weight="normal" font-style="normal" text-anchor="middle" fill="#5a5a5a" transform="rotate(-90 824.2 127.8)" >Groundwater Elevation (metres)</text>
<rect x="46.5" y="321" width="338.2" height="149.6" fill="none" stroke="#333" stroke-width="1.6"/>
<line x1="40.5" y1="325.5" x2="46.5" y2="325.5" stroke="#333" stroke-width="1.5" />
<line x1="40.5" y1="350.9" x2="46.5" y2="350.9" stroke="#333" stroke-width="1.5" />
<line x1="40.5" y1="361.8" x2="46.5" y2="361.8" stroke="#333" stroke-width="1.5" />
<line x1="40.5" y1="387.2" x2="46.5" y2="387.2" stroke="#333" stroke-width="1.5" />
<line x1="40.5" y1="398.1" x2="46.5" y2="398.1" stroke="#333" stroke-width="1.5" />
<line x1="40.5" y1="423.5" x2="46.5" y2="423.5" stroke="#333" stroke-width="1.5" />
<line x1="40.5" y1="434.4" x2="46.5" y2="434.4" stroke="#333" stroke-width="1.5" />
<line x1="40.5" y1="459.8" x2="46.5" y2="459.8" stroke="#333" stroke-width="1.5" />
<line x1="80.1" y1="470.6" x2="80.1" y2="477.6" stroke="#333" stroke-width="1.5" />
<text x="80.1" y="490.1" font-size="10.5" font-weight="normal" font-style="normal" text-anchor="middle" fill="#000" >2006</text>
<line x1="156.1" y1="470.6" x2="156.1" y2="477.6" stroke="#333" stroke-width="1.5" />
<text x="156.1" y="490.1" font-size="10.5" font-weight="normal" font-style="normal" text-anchor="middle" fill="#000" >2007</text>
<line x1="232.1" y1="470.6" x2="232.1" y2="477.6" stroke="#333" stroke-width="1.5" />
<text x="232.1" y="490.1" font-size="10.5" font-weight="normal" font-style="normal" text-anchor="middle" fill="#000" >2008</text>
<line x1="308.1" y1="470.6" x2="308.1" y2="477.6" stroke="#333" stroke-width="1.5" />
<text x="308.1" y="490.1" font-size="10.5" font-weight="normal" font-style="normal" text-anchor="middle" fill="#000" >2009</text>
<line x1="384.1" y1="470.6" x2="384.1" y2="477.6" stroke="#333" stroke-width="1.5" />
<text x="384.1" y="490.1" font-size="10.5" font-weight="normal" font-style="normal" text-anchor="middle" fill="#000" >2010</text>
<text x="30.5" y="350.9" font-size="10.5" font-weight="normal" font-style="normal" text-anchor="middle" fill="#000" transform="rotate(-90 30.5 350.9)" >100.0</text>
<text x="30.5" y="387.2" font-size="10.5" font-weight="normal" font-style="normal" text-anchor="middle" fill="#000" transform="rotate(-90 30.5 387.2)" >10.0</text>
<text x="30.5" y="423.5" font-size="10.5" font-weight="normal" font-style="normal" text-anchor="middle" fill="#000" transform="rotate(-90 30.5 423.5)" >1.0</text>
<text x="30.5" y="459.8" font-size="10.5" font-weight="normal" font-style="normal" text-anchor="middle" fill="#000" transform="rotate(-90 30.5 459.8)" >0.1</text>
<line x1="384.7" y1="348.4" x2="387.7" y2="348.4" stroke="#333" stroke-width="1.2" />
<line x1="384.7" y1="381.8" x2="387.7" y2="381.8" stroke="#333" stroke-width="1.2" />
<line x1="384.7" y1="415.2" x2="387.7" y2="415.2" stroke="#333" stroke-width="1.2" />
<line x1="384.7" y1="448.6" x2="387.7" y2="448.6" stroke="#333" stroke-width="1.2" />
<text x="390.7" y="348.4" font-size="7" font-weight="normal" font-style="normal" text-anchor="middle" fill="#5a5a5a" transform="rotate(-90 390.7 348.4)" >58.2</text>
<text x="390.7" y="381.8" font-size="7" font-weight="normal" font-style="normal" text-anchor="middle" fill="#5a5a5a" transform="rotate(-90 390.7 381.8)" >58.0</text>
<text x="390.7" y="415.2" font-size="7" font-weight="normal" font-style="normal" text-anchor="middle" fill="#5a5a5a" transform="rotate(-90 390.7 415.2)" >57.8</text>
<text x="390.7" y="448.6" font-size="7" font-weight="normal" font-style="normal" text-anchor="middle" fill="#5a5a5a" transform="rotate(-90 390.7 448.6)" >57.6</text>
<text x="215.6" y="295.4" font-size="10.2" font-weight="bold" font-style="italic" text-anchor="middle" fill="#000" textLength="170" lengthAdjust="spacingAndGlyphs">Ethylbenzene in MW7 : Aquifer-Blank</text>
<text x="215.6" y="517.1" font-size="10" font-weight="normal" font-style="normal" text-anchor="middle" fill="#000" >Date</text>
<text x="7" y="395.8" font-size="10.5" font-weight="bold" font-style="normal" text-anchor="middle" fill="#000" transform="rotate(-90 7 395.8)" >Ethylbenzene (ug/l)</text>
<text x="400.2" y="395.8" font-size="8.3" font-weight="normal" font-style="normal" text-anchor="middle" fill="#5a5a5a" transform="rotate(-90 400.2 395.8)" >Groundwater Elevation (metres)</text>
<rect x="470.8" y="321.2" width="315.4" height="149.6" fill="none" stroke="#333" stroke-width="1.6"/>
<line x1="464.8" y1="464.6" x2="470.8" y2="464.6" stroke="#333" stroke-width="1.5" />
<line x1="464.8" y1="441.6" x2="470.8" y2="441.6" stroke="#333" stroke-width="1.5" />
<line x1="464.8" y1="418.6" x2="470.8" y2="418.6" stroke="#333" stroke-width="1.5" />
<line x1="464.8" y1="395.5" x2="470.8" y2="395.5" stroke="#333" stroke-width="1.5" />
<line x1="464.8" y1="372.5" x2="470.8" y2="372.5" stroke="#333" stroke-width="1.5" />
<line x1="464.8" y1="349.5" x2="470.8" y2="349.5" stroke="#333" stroke-width="1.5" />
<line x1="464.8" y1="326.5" x2="470.8" y2="326.5" stroke="#333" stroke-width="1.5" />
<line x1="501.3" y1="470.8" x2="501.3" y2="477.8" stroke="#333" stroke-width="1.5" />
<text x="501.3" y="490.3" font-size="10.5" font-weight="normal" font-style="normal" text-anchor="middle" fill="#000" >2006</text>
<line x1="572.4" y1="470.8" x2="572.4" y2="477.8" stroke="#333" stroke-width="1.5" />
<text x="572.4" y="490.3" font-size="10.5" font-weight="normal" font-style="normal" text-anchor="middle" fill="#000" >2007</text>
<line x1="643.5" y1="470.8" x2="643.5" y2="477.8" stroke="#333" stroke-width="1.5" />
<text x="643.5" y="490.3" font-size="10.5" font-weight="normal" font-style="normal" text-anchor="middle" fill="#000" >2008</text>
<line x1="714.6" y1="470.8" x2="714.6" y2="477.8" stroke="#333" stroke-width="1.5" />
<text x="714.6" y="490.3" font-size="10.5" font-weight="normal" font-style="normal" text-anchor="middle" fill="#000" >2009</text>
<line x1="785.7" y1="470.8" x2="785.7" y2="477.8" stroke="#333" stroke-width="1.5" />
<text x="785.7" y="490.3" font-size="10.5" font-weight="normal" font-style="normal" text-anchor="middle" fill="#000" >2010</text>
<text x="454.5" y="326.5" font-size="10.5" font-weight="normal" font-style="normal" text-anchor="middle" fill="#000" transform="rotate(-90 454.5 326.5)" >1e+06</text>
<text x="454.5" y="372.5" font-size="10.5" font-weight="normal" font-style="normal" text-anchor="middle" fill="#000" transform="rotate(-90 454.5 372.5)" >1e+04</text>
<text x="454.5" y="418.6" font-size="10.5" font-weight="normal" font-style="normal" text-anchor="middle" fill="#000" transform="rotate(-90 454.5 418.6)" >1e+02</text>
<text x="454.5" y="464.6" font-size="10.5" font-weight="normal" font-style="normal" text-anchor="middle" fill="#000" transform="rotate(-90 454.5 464.6)" >1e+00</text>
<line x1="786.2" y1="339.1" x2="789.2" y2="339.1" stroke="#333" stroke-width="1.2" />
<line x1="786.2" y1="375.2" x2="789.2" y2="375.2" stroke="#333" stroke-width="1.2" />
<line x1="786.2" y1="411.3" x2="789.2" y2="411.3" stroke="#333" stroke-width="1.2" />
<line x1="786.2" y1="447.4" x2="789.2" y2="447.4" stroke="#333" stroke-width="1.2" />
<text x="792.2" y="339.1" font-size="7" font-weight="normal" font-style="normal" text-anchor="middle" fill="#5a5a5a" transform="rotate(-90 792.2 339.1)" >58.2</text>
<text x="792.2" y="375.2" font-size="7" font-weight="normal" font-style="normal" text-anchor="middle" fill="#5a5a5a" transform="rotate(-90 792.2 375.2)" >58.0</text>
<text x="792.2" y="411.3" font-size="7" font-weight="normal" font-style="normal" text-anchor="middle" fill="#5a5a5a" transform="rotate(-90 792.2 411.3)" >57.8</text>
<text x="792.2" y="447.4" font-size="7" font-weight="normal" font-style="normal" text-anchor="middle" fill="#5a5a5a" transform="rotate(-90 792.2 447.4)" >57.6</text>
<text x="628.5" y="295.4" font-size="10.2" font-weight="bold" font-style="italic" text-anchor="middle" fill="#000" textLength="170" lengthAdjust="spacingAndGlyphs">Ethylbenzene in MW8 : Aquifer-Blank</text>
<text x="628.5" y="517.3" font-size="10" font-weight="normal" font-style="normal" text-anchor="middle" fill="#000" >Date</text>
<text x="431" y="396" font-size="10.5" font-weight="bold" font-style="normal" text-anchor="middle" fill="#000" transform="rotate(-90 431 396)" >Ethylbenzene (ug/l)</text>
<text x="801.7" y="396" font-size="8.3" font-weight="normal" font-style="normal" text-anchor="middle" fill="#5a5a5a" transform="rotate(-90 801.7 396)" >Groundwater Elevation (metres)</text>
<line x1="808.7" y1="337.7" x2="808.7" y2="464" stroke="#ff0000" stroke-width="1.2" />
<line x1="808.7" y1="337.7" x2="811.2" y2="337.7" stroke="#ff0000" stroke-width="1.2" />
<text x="814.5" y="337.2" font-size="7" font-weight="normal" font-style="normal" text-anchor="middle" fill="#5a5a5a" transform="rotate(-90 814.5 337.2)" >10</text>
<line x1="808.7" y1="363" x2="811.2" y2="363" stroke="#ff0000" stroke-width="1.2" />
<text x="814.5" y="362.5" font-size="7" font-weight="normal" font-style="normal" text-anchor="middle" fill="#5a5a5a" transform="rotate(-90 814.5 362.5)" >8</text>
<line x1="808.7" y1="388.2" x2="811.2" y2="388.2" stroke="#ff0000" stroke-width="1.2" />
<text x="814.5" y="387.7" font-size="7" font-weight="normal" font-style="normal" text-anchor="middle" fill="#5a5a5a" transform="rotate(-90 814.5 387.7)" >6</text>
<line x1="808.7" y1="413.5" x2="811.2" y2="413.5" stroke="#ff0000" stroke-width="1.2" />
<text x="814.5" y="413" font-size="7" font-weight="normal" font-style="normal" text-anchor="middle" fill="#5a5a5a" transform="rotate(-90 814.5 413)" >4</text>
<line x1="808.7" y1="438.7" x2="811.2" y2="438.7" stroke="#ff0000" stroke-width="1.2" />
<text x="814.5" y="438.2" font-size="7" font-weight="normal" font-style="normal" text-anchor="middle" fill="#5a5a5a" transform="rotate(-90 814.5 438.2)" >2</text>
<line x1="808.7" y1="464" x2="811.2" y2="464" stroke="#ff0000" stroke-width="1.2" />
<text x="814.5" y="463.5" font-size="7" font-weight="normal" font-style="normal" text-anchor="middle" fill="#5a5a5a" transform="rotate(-90 814.5 463.5)" >0</text>
<text x="824.2" y="396" font-size="8.3" font-weight="normal" font-style="normal" text-anchor="middle" fill="#5a5a5a" transform="rotate(-90 824.2 396)" >NAPL Thickness (mm)</text>
</svg>
</body></html>
